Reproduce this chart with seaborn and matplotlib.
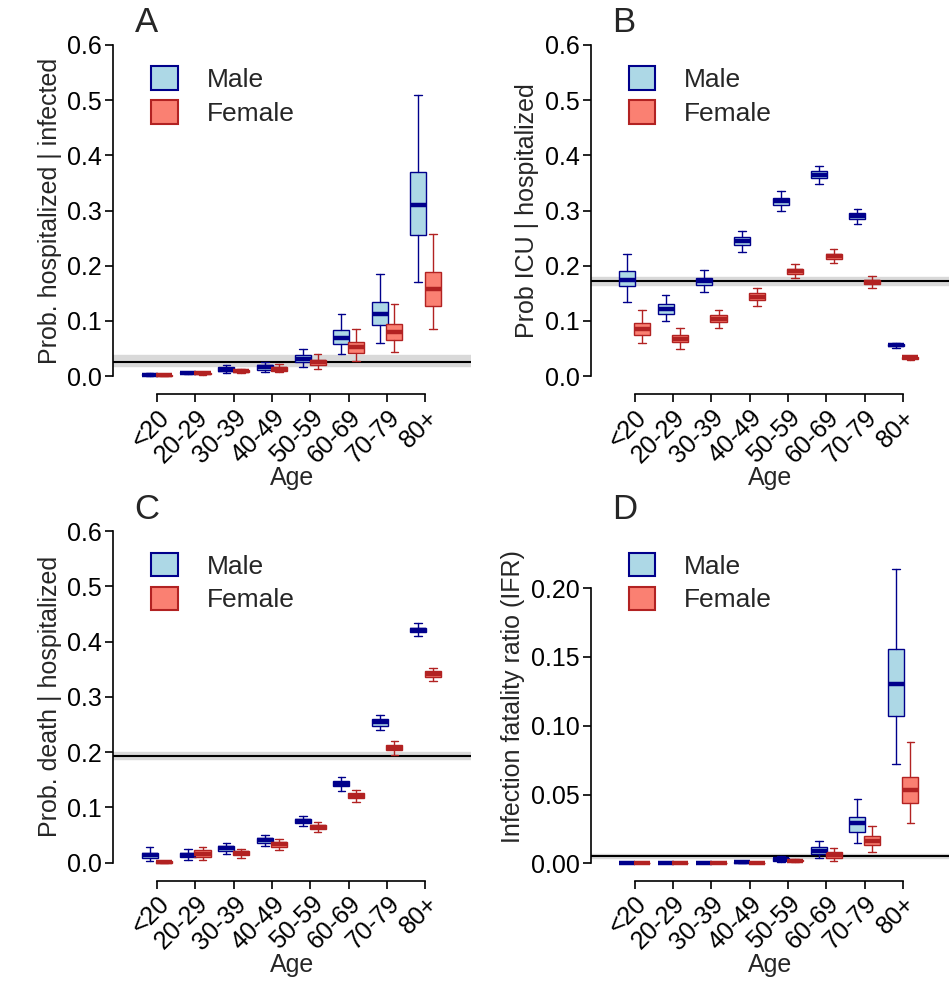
import numpy as np
import matplotlib
matplotlib.use('Agg')
import matplotlib.pyplot as plt
import seaborn as sns
from matplotlib.patches import Patch

sns.set_theme(style='ticks')
plt.rcParams['font.family'] = ['Liberation Sans', 'DejaVu Sans']

ages = ['<20', '20-29', '30-39', '40-49', '50-59', '60-69', '70-79', '80+']

# each row: whisker low, q1, median, q3, whisker high
hosp_male = [[0.001, 0.002, 0.003, 0.004, 0.005], [0.004, 0.005, 0.006, 0.007, 0.008],
             [0.006, 0.009, 0.012, 0.016, 0.020], [0.008, 0.012, 0.016, 0.020, 0.026],
             [0.016, 0.025, 0.032, 0.038, 0.050], [0.040, 0.058, 0.070, 0.083, 0.113],
             [0.060, 0.093, 0.113, 0.135, 0.185], [0.170, 0.255, 0.310, 0.370, 0.510]]
hosp_female = [[0.000, 0.001, 0.002, 0.003, 0.004], [0.003, 0.004, 0.005, 0.006, 0.007],
               [0.005, 0.007, 0.009, 0.011, 0.014], [0.007, 0.010, 0.013, 0.017, 0.022],
               [0.013, 0.020, 0.025, 0.030, 0.040], [0.028, 0.042, 0.053, 0.062, 0.085],
               [0.043, 0.065, 0.080, 0.095, 0.130], [0.086, 0.128, 0.158, 0.188, 0.258]]
icu_male = [[0.135, 0.163, 0.175, 0.190, 0.222], [0.100, 0.113, 0.122, 0.130, 0.147],
            [0.152, 0.165, 0.172, 0.178, 0.193], [0.225, 0.238, 0.245, 0.252, 0.263],
            [0.300, 0.310, 0.317, 0.323, 0.335], [0.348, 0.358, 0.365, 0.372, 0.380],
            [0.275, 0.285, 0.290, 0.296, 0.303], [0.052, 0.055, 0.057, 0.059, 0.061]]
icu_female = [[0.060, 0.075, 0.085, 0.097, 0.120], [0.050, 0.062, 0.068, 0.075, 0.088],
              [0.088, 0.098, 0.104, 0.110, 0.120], [0.128, 0.138, 0.144, 0.150, 0.160],
              [0.178, 0.185, 0.190, 0.195, 0.203], [0.205, 0.212, 0.217, 0.222, 0.230],
              [0.160, 0.167, 0.171, 0.175, 0.181], [0.030, 0.032, 0.034, 0.035, 0.037]]
death_male = [[0.003, 0.008, 0.013, 0.018, 0.028], [0.005, 0.010, 0.014, 0.018, 0.025],
              [0.015, 0.021, 0.026, 0.030, 0.036], [0.030, 0.035, 0.040, 0.044, 0.050],
              [0.066, 0.071, 0.075, 0.079, 0.085], [0.130, 0.138, 0.143, 0.148, 0.155],
              [0.240, 0.248, 0.254, 0.259, 0.267], [0.410, 0.417, 0.421, 0.425, 0.433]]
death_female = [[0.000, 0.000, 0.001, 0.002, 0.003], [0.005, 0.010, 0.016, 0.022, 0.028],
                [0.009, 0.014, 0.017, 0.021, 0.025], [0.023, 0.029, 0.033, 0.037, 0.042],
                [0.055, 0.060, 0.064, 0.068, 0.073], [0.110, 0.117, 0.121, 0.126, 0.132],
                [0.195, 0.203, 0.208, 0.213, 0.220], [0.328, 0.336, 0.341, 0.346, 0.353]]
ifr_male = [[0.0, 0.0, 0.0001, 0.0002, 0.0003], [0.0, 0.0001, 0.0002, 0.0003, 0.0004],
            [0.0001, 0.0002, 0.0003, 0.0004, 0.0006], [0.0002, 0.0004, 0.0006, 0.0008, 0.001],
            [0.001, 0.002, 0.003, 0.0035, 0.005], [0.004, 0.007, 0.009, 0.012, 0.016],
            [0.015, 0.023, 0.029, 0.034, 0.047], [0.072, 0.107, 0.130, 0.156, 0.214]]
ifr_female = [[0.0, 0.0, 0.0, 0.0001, 0.0002], [0.0, 0.0, 0.0001, 0.0002, 0.0003],
              [0.0, 0.0001, 0.0002, 0.0003, 0.0004], [0.0001, 0.0002, 0.0003, 0.0004, 0.0006],
              [0.001, 0.0015, 0.002, 0.0025, 0.003], [0.002, 0.004, 0.006, 0.008, 0.011],
              [0.008, 0.013, 0.016, 0.020, 0.027], [0.029, 0.044, 0.053, 0.063, 0.088]]

# overall estimate line and band: (value, low, high)
overall = {'A': (0.025, 0.018, 0.038), 'B': (0.172, 0.165, 0.180),
           'C': (0.193, 0.187, 0.200), 'D': (0.005, 0.004, 0.007)}

panels = [
    ('A', hosp_male, hosp_female, 'Prob. hospitalized | infected', 0.6, np.arange(0, 0.61, 0.1), '{:.1f}'),
    ('B', icu_male, icu_female, 'Prob ICU | hospitalized', 0.6, np.arange(0, 0.61, 0.1), '{:.1f}'),
    ('C', death_male, death_female, 'Prob. death | hospitalized', 0.6, np.arange(0, 0.61, 0.1), '{:.1f}'),
    ('D', ifr_male, ifr_female, 'Infection fatality ratio (IFR)', 0.242, np.arange(0, 0.21, 0.05), '{:.2f}'),
]

male_face, male_edge = '#add8e6', '#00008b'
fem_face, fem_edge = '#fa8072', '#b22222'

fig, axes = plt.subplots(2, 2, figsize=(9.51, 9.82), dpi=100)
fig.subplots_adjust(left=0.119, right=0.998, top=0.96, bottom=0.116, wspace=0.333, hspace=0.42)

def stats_list(rows):
    return [dict(whislo=r[0], q1=r[1], med=r[2], q3=r[3], whishi=r[4], fliers=[]) for r in rows]

for ax, (letter, male, female, ylab, ytop, yticks, fmt) in zip(axes.flat, panels):
    x = np.arange(len(ages))
    sns.despine(ax=ax)
    ax.spines['bottom'].set_position(('outward', 9))
    v, lo, hi = overall[letter]
    ax.axhspan(lo, hi, color='#d9d9d9', zorder=0)
    ax.axhline(v, color='black', lw=1.5, zorder=1)
    for rows, pos, fc, ec in [(male, x - 0.19, male_face, male_edge),
                              (female, x + 0.19, fem_face, fem_edge)]:
        ax.bxp(stats_list(rows), positions=pos, widths=0.42, patch_artist=True,
               showfliers=False, manage_ticks=False,
               boxprops=dict(facecolor=fc, edgecolor=ec, lw=1.0),
               whiskerprops=dict(color=ec, lw=1.0, linestyle='-'),
               capprops=dict(color=ec, lw=1.0),
               medianprops=dict(color=ec, lw=3.2), capwidths=0.2)
    pad = 0.01 if letter != 'D' else 0.0035
    ax.set_xlim(-1.14, 8.2)
    ax.set_ylim(-pad, ytop + pad)
    ax.set_xticks(x)
    ax.set_xticklabels(ages, rotation=45, ha='right', va='top', rotation_mode='anchor', fontsize=18)
    ax.set_yticks(yticks)
    ax.set_yticklabels([fmt.format(t) for t in yticks], fontsize=18)
    ax.set_ylabel(ylab, fontsize=18, labelpad=4)
    ax.set_xlabel('Age', fontsize=18, labelpad=-1)
    ax.spines['left'].set_bounds(0, yticks[-1])
    ax.spines['bottom'].set_bounds(0, 7)
    ax.tick_params(direction='out', length=6, width=1.2, color='black', pad=2, labelcolor='black')
    for s in ['left', 'bottom']:
        ax.spines[s].set_color('black')
        ax.spines[s].set_linewidth(1.2)
    ax.text(0.06, 1.0, letter, transform=ax.transAxes, fontsize=25, va='bottom')
    ax.legend(handles=[Patch(facecolor=male_face, edgecolor=male_edge, lw=1.5, label='Male'),
                       Patch(facecolor=fem_face, edgecolor=fem_edge, lw=1.5, label='Female')],
              loc='upper left', bbox_to_anchor=(0.04, 0.99), frameon=False, fontsize=19,
              handlelength=1.0, handleheight=1.0, handletextpad=1.1, labelspacing=0.3)

fig.savefig('out.png', dpi=100)
